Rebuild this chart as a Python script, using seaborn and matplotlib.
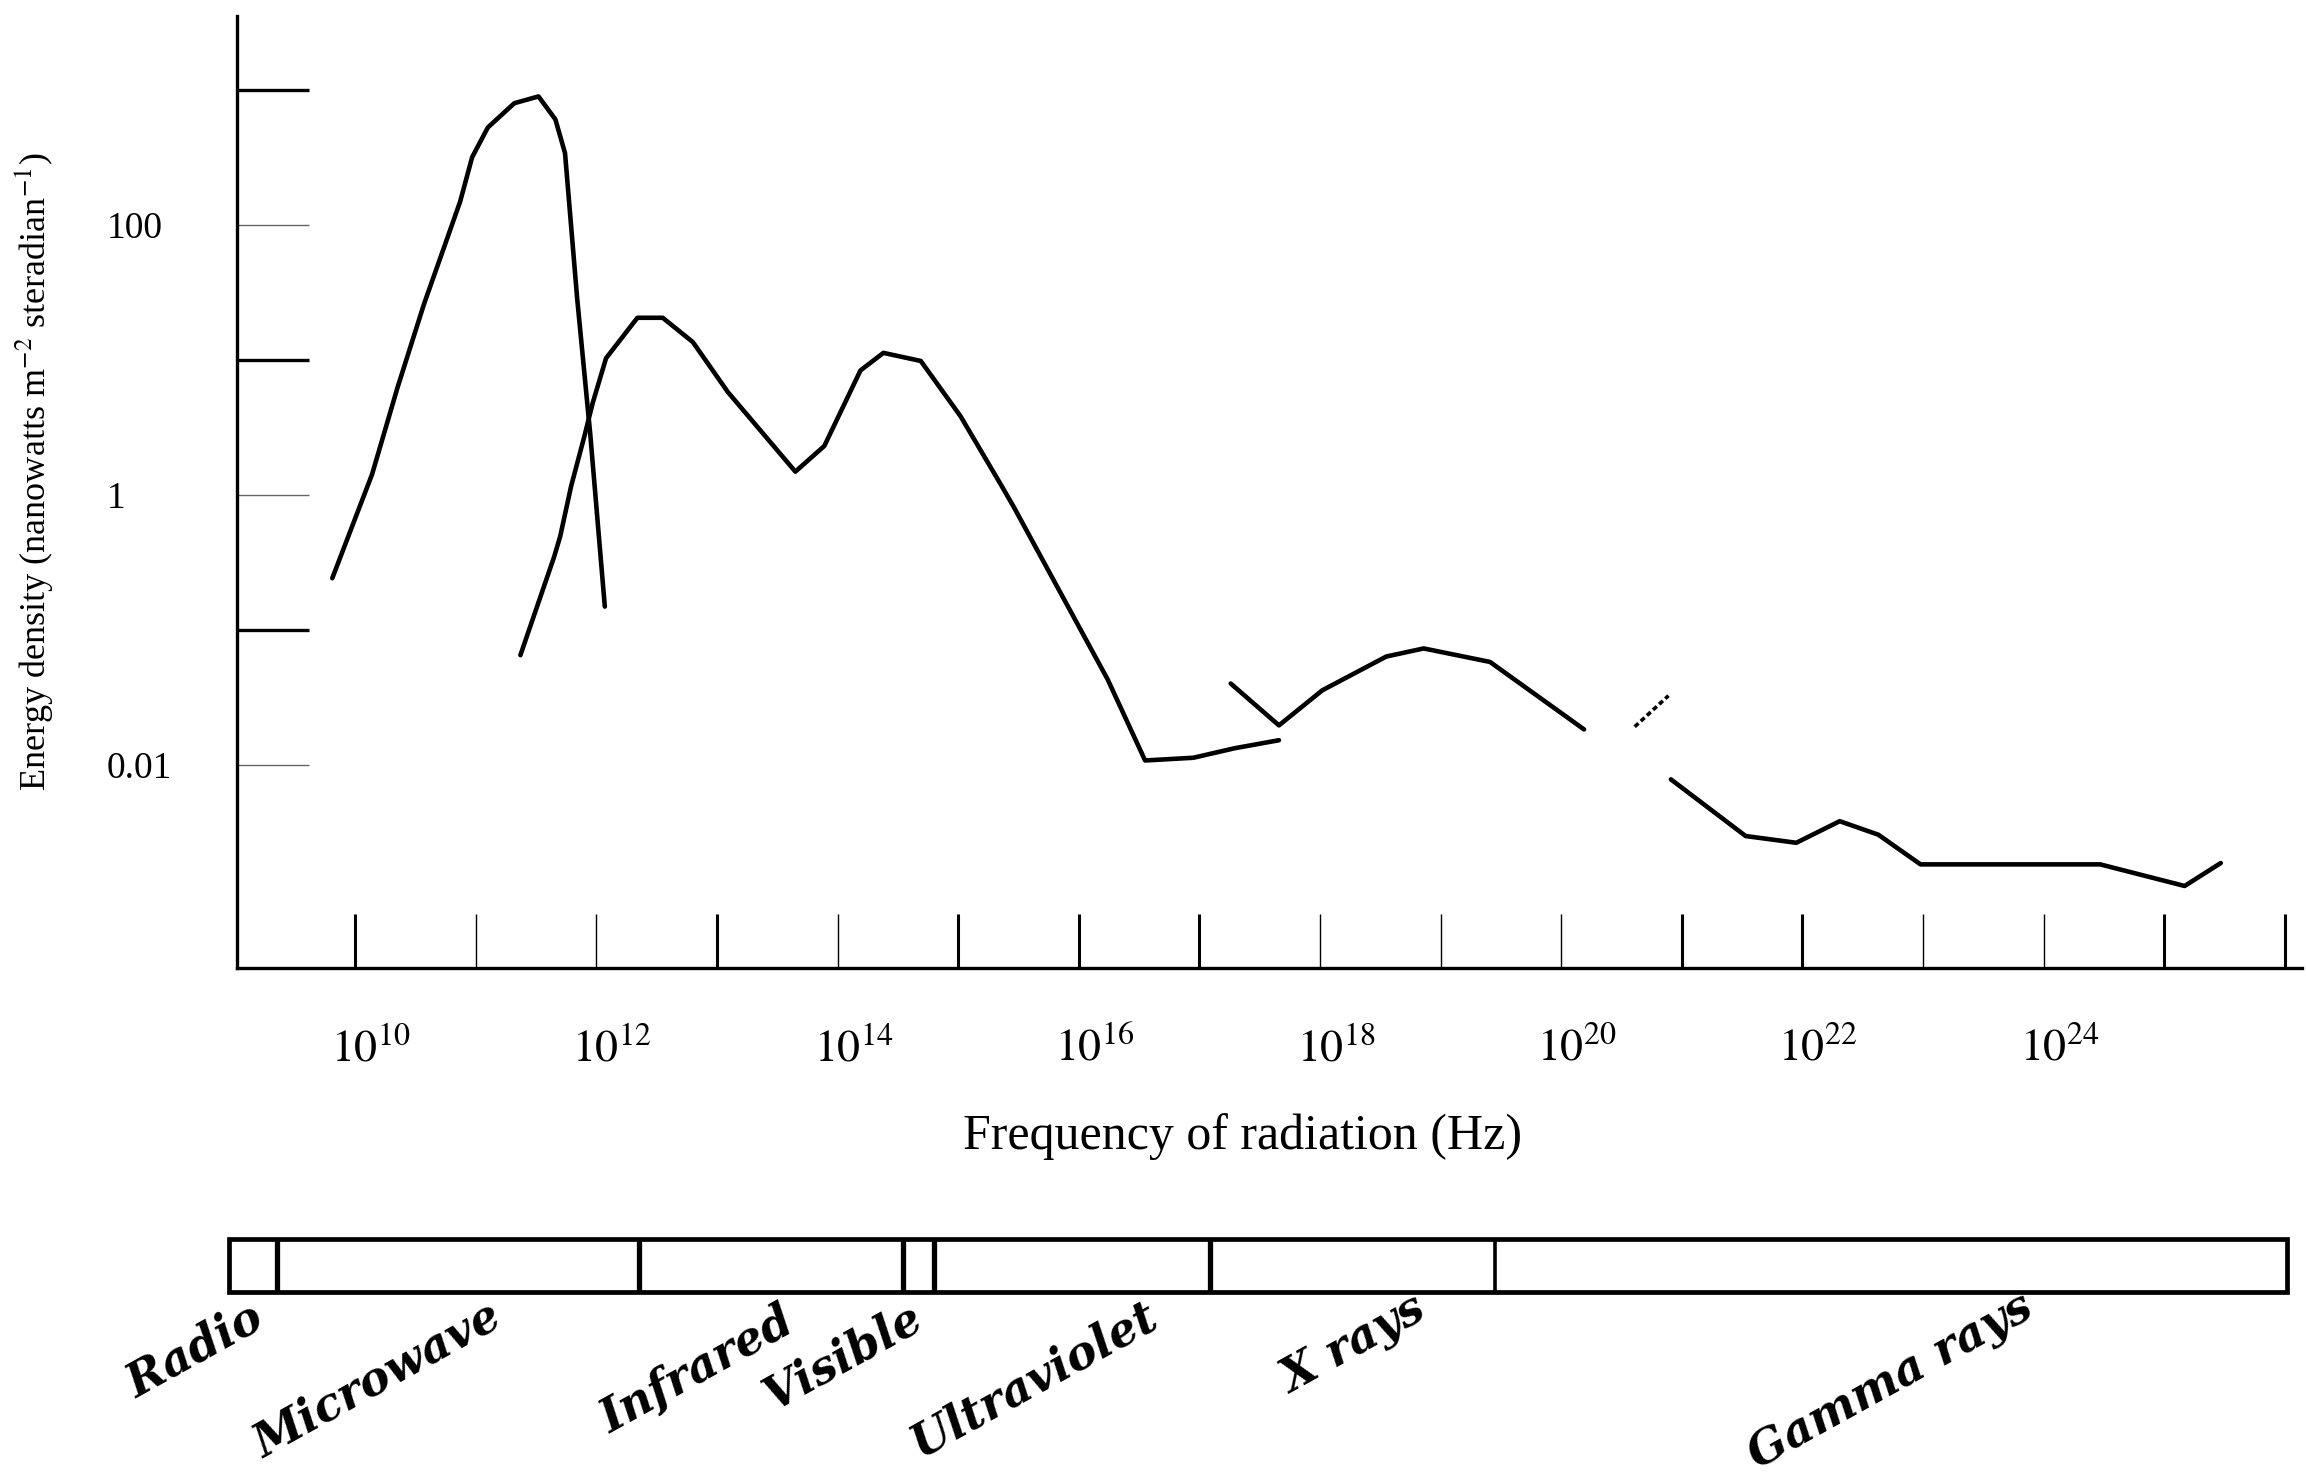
import numpy as np
import matplotlib
matplotlib.use("Agg")
import matplotlib.pyplot as plt
import matplotlib.transforms as mtransforms
import seaborn as sns
from matplotlib.ticker import FixedLocator, FuncFormatter, NullFormatter
from matplotlib.patches import Rectangle

# ---------------- data (log10 of frequency in Hz, log10 of energy density) ----------------
microwave_logf = [9.81, 10.14, 10.35, 10.57, 10.74, 10.87, 10.97, 11.10, 11.32, 11.52,
                  11.66, 11.74, 11.84, 11.95, 12.07]
microwave_loge = [-0.62, 0.15, 0.79, 1.41, 1.84, 2.17, 2.50, 2.72, 2.90, 2.95,
                  2.78, 2.53, 1.46, 0.44, -0.83]

ir_uv_logf = [11.37, 11.65, 11.70, 11.79, 11.90, 11.97, 12.08, 12.34, 12.55, 12.80,
              13.09, 13.65, 13.89, 14.19, 14.38, 14.69, 15.02, 15.35, 15.46, 15.85,
              16.24, 16.55, 16.95, 17.29, 17.66]
ir_uv_loge = [-1.19, -0.46, -0.31, 0.06, 0.43, 0.68, 1.01, 1.31, 1.31, 1.13,
              0.76, 0.17, 0.36, 0.92, 1.05, 0.99, 0.58, 0.08, -0.09, -0.73,
              -1.37, -1.97, -1.95, -1.88, -1.82]

xray_logf = [17.26, 17.66, 18.02, 18.55, 18.86, 19.41, 20.19]
xray_loge = [-1.40, -1.71, -1.45, -1.20, -1.14, -1.24, -1.74]

gap_logf = [20.61, 20.89]
gap_loge = [-1.72, -1.49]

gamma_logf = [20.91, 21.53, 21.95, 22.31, 22.63, 22.98, 24.47, 25.17, 25.47]
gamma_loge = [-2.11, -2.53, -2.58, -2.42, -2.52, -2.74, -2.74, -2.90, -2.73]

x_thick_ticks = [10, 13, 15, 16, 17, 21, 22, 25, 26]
x_thin_ticks = [11, 12, 14, 18, 19, 20, 23, 24]
x_labelled = [10, 12, 14, 16, 18, 20, 22, 24]

y_thick_ticks = [3, 1, -1]
y_thin_ticks = [2, 0, -2]
y_tick_labels = {2: "100", 0: "1", -2: "0.01"}

band_names = ["Radio", "Microwave", "Infrared", "Visible", "Ultraviolet", "X rays", "Gamma rays"]
band_edges_logf = [8.95, 9.35, 12.35, 14.54, 14.80, 17.09, 19.45, 26.02]

# ---------------- layout ----------------
label_end_logf = [9.26, 11.24, 13.66, 14.73, 16.68, 18.90, 23.94]
label_end_y = [-0.66, -0.62, -0.74, -0.66, -0.62, -0.48, -0.46]
divider_widths = [3.8, 3.8, 3.8, 3.8, 3.8, 2.6]

sns.set_theme(style="ticks")
plt.rcParams["font.family"] = ["Liberation Serif", "DejaVu Serif"]
plt.rcParams["mathtext.fontset"] = "stix"

W, H = 2306, 1484
fig = plt.figure(figsize=(W / 100, H / 100), dpi=100)
ax_left, ax_right, ax_top, ax_bottom = 237, 2301.6, 16, 968.3
ax = fig.add_axes([ax_left / W, 1 - ax_bottom / H, (ax_right - ax_left) / W, (ax_bottom - ax_top) / H])

for xs, ys in [(microwave_logf, microwave_loge), (ir_uv_logf, ir_uv_loge),
               (xray_logf, xray_loge), (gamma_logf, gamma_loge)]:
    sns.lineplot(x=10.0 ** np.array(xs), y=10.0 ** np.array(ys), ax=ax, color="black",
                 linewidth=3.3, sort=False, estimator=None)
sns.lineplot(x=10.0 ** np.array(gap_logf), y=10.0 ** np.array(gap_loge), ax=ax, color="black",
             linewidth=2.6, linestyle=(0, (1.4, 0.9)), sort=False, estimator=None)

ax.set_xscale("log")
ax.set_yscale("log")
ax.set_xlim(10 ** 9.02, 10 ** 26.14)
ax.set_ylim(10 ** -3.51, 10 ** 3.546)

sns.despine(ax=ax)
for s in ["left", "bottom"]:
    ax.spines[s].set_linewidth(2.4)
    ax.spines[s].set_color("black")

xfmt = FuncFormatter(lambda v, p: (r"$10^{%d}$" % int(round(np.log10(v))))
                     if int(round(np.log10(v))) in x_labelled else "")
ax.xaxis.set_major_locator(FixedLocator(10.0 ** np.array(x_thick_ticks)))
ax.xaxis.set_minor_locator(FixedLocator(10.0 ** np.array(x_thin_ticks)))
ax.xaxis.set_major_formatter(xfmt)
ax.xaxis.set_minor_formatter(xfmt)
ax.tick_params(axis="x", which="both", direction="in", length=39, pad=43, labelsize=33,
               bottom=True, color="black", labelcolor="black")
ax.tick_params(axis="x", which="major", width=2.2)
ax.tick_params(axis="x", which="minor", width=1.0)

yfmt = FuncFormatter(lambda v, p: y_tick_labels.get(int(round(np.log10(v))), ""))
ax.yaxis.set_major_locator(FixedLocator(10.0 ** np.array(y_thick_ticks)))
ax.yaxis.set_minor_locator(FixedLocator(10.0 ** np.array(y_thin_ticks)))
ax.yaxis.set_major_formatter(NullFormatter())
ax.yaxis.set_minor_formatter(yfmt)
ax.tick_params(axis="y", which="both", direction="in", length=52, pad=94, labelsize=27,
               left=True, labelcolor="black")
ax.tick_params(axis="y", which="major", width=2.4, color="black")
ax.tick_params(axis="y", which="minor", width=1.0, color="#666666")
for lab in ax.get_yticklabels(minor=True):
    lab.set_horizontalalignment("left")

shift = mtransforms.ScaledTranslation(0.16, 0, fig.dpi_scale_trans)
for lab in ax.get_xticklabels(which="both"):
    lab.set_transform(lab.get_transform() + shift)

ax.set_xlabel("Frequency of radiation (Hz)", fontsize=36, color="black")
ax.xaxis.set_label_coords(0.487, -0.152)
ax.set_ylabel(r"Energy density (nanowatts m$^{-2}$ steradian$^{-1}$)", fontsize=26, color="black")
ax.yaxis.set_label_coords(-0.0882, 0.521)

# ---------------- spectrum band ----------------
band_top, band_bottom = 1238.5, 1291.5
bax = fig.add_axes([ax_left / W, 1 - band_bottom / H, (ax_right - ax_left) / W, (band_bottom - band_top) / H])
bax.set_xscale("log")
bax.set_xlim(ax.get_xlim())
bax.set_ylim(0, 1)
bax.axis("off")
edges = 10.0 ** np.array(band_edges_logf)
bax.add_patch(Rectangle((edges[0], 0), edges[-1] - edges[0], 1, fill=False, lw=3.4,
                        ec="black", clip_on=False))
bax.vlines(edges[1:-1], 0, 1, colors="black", linewidths=divider_widths, clip_on=False)
for name, xe, ye in zip(band_names, label_end_logf, label_end_y):
    bax.text(10.0 ** xe, ye, name, rotation=29, rotation_mode="anchor", ha="right",
             va="baseline", fontsize=33, fontstyle="italic", fontweight="bold",
             family=["DejaVu Serif"], color="black", clip_on=False)

fig.savefig("out.png", dpi=100, facecolor="white")
